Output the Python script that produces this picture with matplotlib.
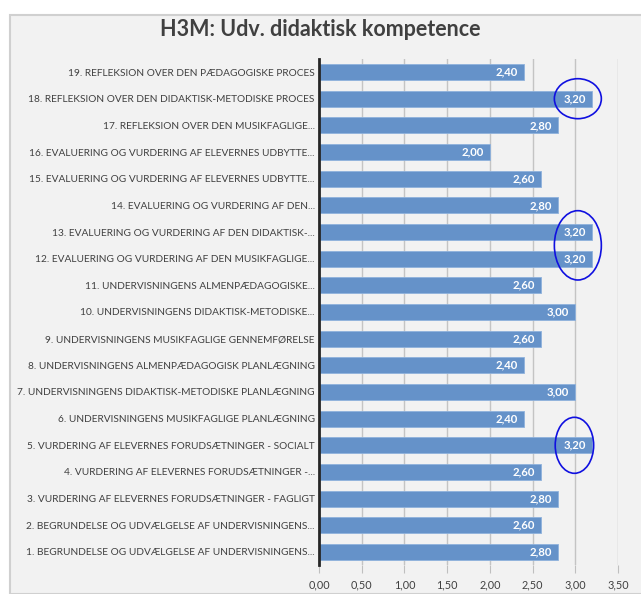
import matplotlib.pyplot as plt
from matplotlib.patches import Ellipse, Rectangle

plt.rcParams['font.family'] = ['Lato', 'DejaVu Sans']

labels = [
    '1. BEGRUNDELSE OG UDVÆLGELSE AF UNDERVISNINGENS...',
    '2. BEGRUNDELSE OG UDVÆLGELSE AF UNDERVISNINGENS...',
    '3. VURDERING AF ELEVERNES FORUDSÆTNINGER - FAGLIGT',
    '4. VURDERING AF ELEVERNES FORUDSÆTNINGER -...',
    '5. VURDERING AF ELEVERNES FORUDSÆTNINGER - SOCIALT',
    '6. UNDERVISNINGENS MUSIKFAGLIGE PLANLÆGNING',
    '7. UNDERVISNINGENS DIDAKTISK-METODISKE PLANLÆGNING',
    '8. UNDERVISNINGENS ALMENPÆDAGOGISK PLANLÆGNING',
    '9. UNDERVISNINGENS MUSIKFAGLIGE GENNEMFØRELSE',
    '10. UNDERVISNINGENS DIDAKTISK-METODISKE...',
    '11. UNDERVISNINGENS ALMENPÆDAGOGISKE...',
    '12. EVALUERING OG VURDERING AF DEN MUSIKFAGLIGE...',
    '13. EVALUERING OG VURDERING AF DEN DIDAKTISK-...',
    '14. EVALUERING OG VURDERING AF DEN...',
    '15. EVALUERING OG VURDERING AF ELEVERNES UDBYTTE...',
    '16. EVALUERING OG VURDERING AF ELEVERNES UDBYTTE...',
    '17. REFLEKSION OVER DEN MUSIKFAGLIGE...',
    '18. REFLEKSION OVER DEN DIDAKTISK-METODISKE PROCES',
    '19. REFLEKSION OVER DEN PÆDAGOGISKE PROCES',
]
values = [2.8, 2.6, 2.8, 2.6, 3.2, 2.4, 3.0, 2.4, 2.6, 3.0,
          2.6, 3.2, 3.2, 2.8, 2.6, 2.0, 2.8, 3.2, 2.4]
ticks = [0, 0.5, 1, 1.5, 2, 2.5, 3, 3.5]

txt = '#404040'
fig = plt.figure(figsize=(6.41, 5.94), dpi=100)
fig.patches.append(Rectangle((10/641, 0), 1, 1 - 15/594, transform=fig.transFigure,
                             facecolor='#f2f2f2', edgecolor='#d0d0d0', lw=1.5, zorder=-10))

ax = fig.add_axes([319/641, 1 - 565.3/594, 299/641, 506.6/594])
ax.set_facecolor('none')
y = range(len(values))
bars = ax.barh(y, values, height=0.6, color='#6592c9', edgecolor='#8fb2dc', lw=0.6, zorder=3)
for b, v in zip(bars, values):
    ax.text(v - 0.07, b.get_y() + b.get_height()/2, f'{v:.2f}'.replace('.', ','),
            ha='right', va='center', color='white', fontsize=8.2, fontweight='bold', zorder=4)

ax.set_xlim(0, 3.5)
ax.set_ylim(-0.5, len(values) - 0.5)
ax.set_xticks(ticks)
ax.set_xticklabels([f'{t:.2f}'.replace('.', ',') for t in ticks], fontsize=7.8, color=txt)
ax.set_yticks(list(y))
ax.set_yticklabels(labels, fontsize=7.3, color=txt)
ax.tick_params(axis='y', length=0, pad=3)
ax.tick_params(axis='x', length=6, color='#bfbfbf', pad=4)
ax.grid(axis='x', color='#c4c4c4', lw=1, zorder=0)
for s in ['top', 'right', 'bottom']:
    ax.spines[s].set_visible(False)
ax.spines['left'].set_color('#262626')
ax.spines['left'].set_linewidth(2)
ax.spines['left'].set_zorder(5)

# blue ellipses around the 3,20 labels
for xc, yc, w, h in [(3.03, 17, 0.55, 1.5), (3.03, 11.5, 0.55, 2.6), (2.99, 4, 0.45, 2.1)]:
    ax.add_patch(Ellipse((xc, yc), w, h, fill=False, edgecolor='#1010e0', lw=1.2,
                         zorder=6, clip_on=False))

fig.text(0.5, 1 - 30/594, 'H3M: Udv. didaktisk kompetence', ha='center', va='center',
         fontsize=15.5, fontweight='bold', color=txt)

fig.savefig('out.png', dpi=100)
